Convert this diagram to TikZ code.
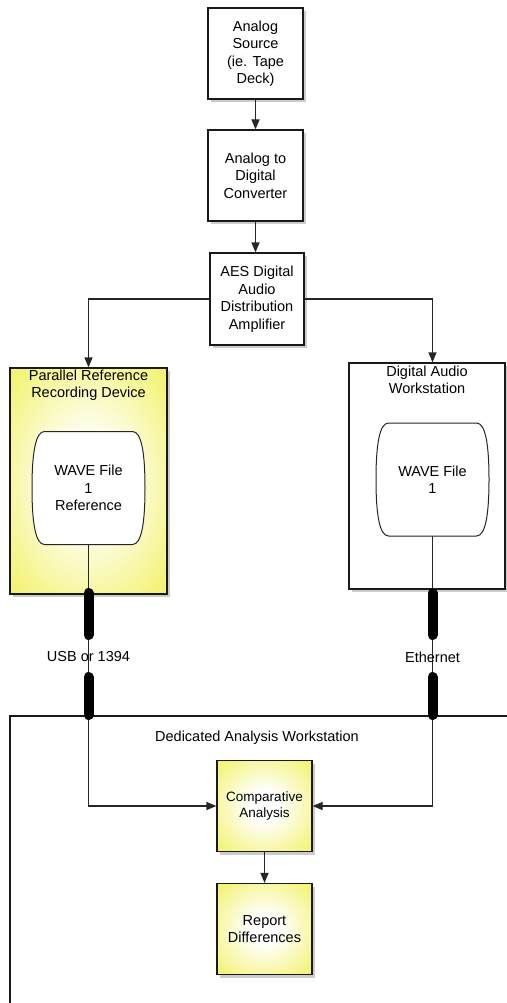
\documentclass[tikz,border=0pt]{standalone}
\usepackage{fontspec}
\setmainfont{Liberation Sans}
\usepackage{tikz}
\usetikzlibrary{arrows.meta,shadows}

\definecolor{padyellow}{RGB}{240,240,80}
\pgfdeclareradialshading{glow}{\pgfpoint{0bp}{0bp}}{color(0bp)=(white); color(8bp)=(white); color(40bp)=(padyellow); color(50bp)=(padyellow)}

\begin{document}
\begin{tikzpicture}
[x=1pt, y=-1pt, font=\fontsize{14.5}{17.5}\selectfont, >={Triangle[length=10pt,width=8pt]}]
\tikzset{
	box/.style = {draw=black!90, line width=1.2pt, fill=white, align=center, inner sep=2pt,
		minimum width=95pt, minimum height=91pt,
		drop shadow={shadow xshift=2.5pt, shadow yshift=-3pt, opacity=.4}},
	hotbox/.style = {box, shading=glow},
	frame/.style = {box, fill=white},
	caption/.style = {align=center, inner sep=0pt},
	link/.style = {draw=black!85, line width=1.2pt},
	plug/.style = {line width=10pt, line cap=round, black},
	pics/wave/.style = {code = {
		\draw[draw=black!85, line width=1pt, fill=white]
			(-44,-56.5) -- (44,-56.5) .. controls (53,-56.5) and (56.5,-35) .. (56.5,0)
			.. controls (56.5,35) and (53,56.5) .. (44,56.5) -- (-44,56.5)
			.. controls (-53,56.5) and (-56.5,35) .. (-56.5,0)
			.. controls (-56.5,-35) and (-53,-56.5) .. cycle;
		\node (-file) [caption, minimum width=113pt, minimum height=113pt] {#1};
	}}
}
\useasboundingbox (0,0) rectangle (506,1003);

% source chain
\node (src) [box] at (255.5,53.5) {Analog\\Source\\(ie. Tape\\Deck)};
\node (adc) [box] at (255.5,175.5) {Analog to\\Digital\\Converter};
\node (aes) [box, minimum width=94pt, minimum height=92pt] at (257,299) {AES Digital\\Audio\\Distribution\\Amplifier};

\draw[link,->] (src) -- (adc);
\draw[link,->] (adc.south) -- (adc.south |- aes.north);

% the two recorders
\node (prd) [hotbox, minimum width=157pt, minimum height=226pt] at (88.5,481) {};
\node (prdt) [caption] at (88.5,385) {Parallel Reference\\Recording Device};
\node (daw) [frame, minimum width=156pt, minimum height=226pt] at (427,476) {};
\node (dawt) [caption] at (427,380) {Digital Audio\\Workstation};

\pic (wl) at (88.5,488) {wave={WAVE File\\1\\Reference}};
\pic (wr) at (432.5,479.5) {wave={WAVE File\\1}};

\draw[link,->] (aes.west) -| (prd.north);
\draw[link,->] (aes.east) -| (wr-file.south |- daw.north);

% analysis station
\node (dws) [frame, minimum width=510pt, minimum height=304pt] at (265,868) {};
\node (dwst) [caption] at (257,738) {Dedicated Analysis Workstation};
\node (cmp) [hotbox, font=\fontsize{13.5}{15.7}\selectfont] at (264.5,806) {Comparative\\Analysis};
\node (rpt) [hotbox] at (264.5,929) {Report\\Differences};

\draw[link,->] (wl-file.south) |- (cmp.west);
\draw[link,->] (wr-file.south) |- (cmp.east);
\draw[link,->] (cmp) -- (rpt);

% cables
\draw[plug] (88.5,593) -- (88.5,635);
\draw[plug] (88.5,677) -- (88.5,715);
\draw[plug] (432.5,593) -- (432.5,635);
\draw[plug] (432.5,677) -- (432.5,715);
\node (usb) [caption] at (88.5,657) {USB or 1394};
\node (eth) [caption] at (432.5,657) {Ethernet};
\end{tikzpicture}
\end{document}
